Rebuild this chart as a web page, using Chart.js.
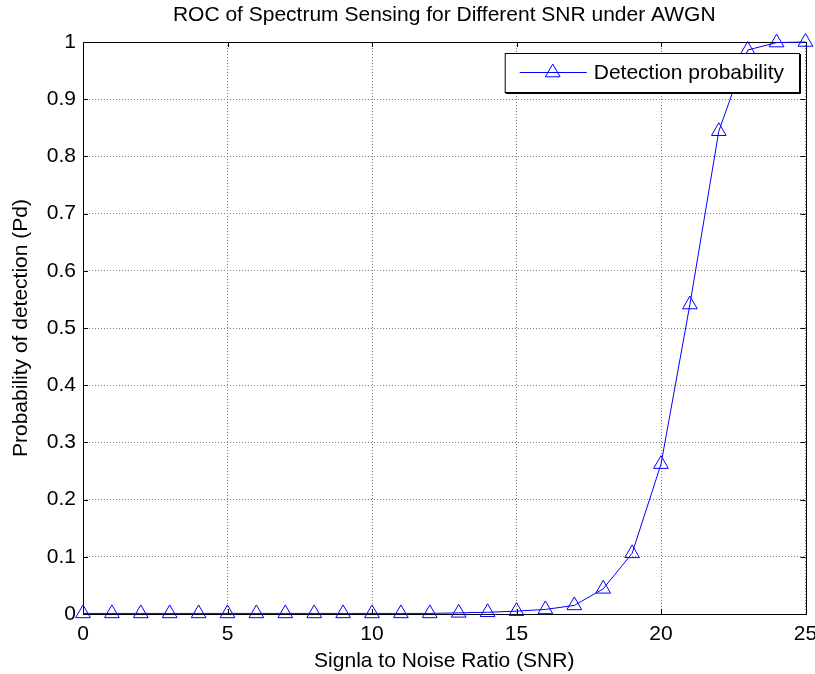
<!DOCTYPE html>
<html>
<head>
<meta charset="utf-8">
<title>ROC of Spectrum Sensing</title>
<script src="https://cdn.jsdelivr.net/npm/chart.js@4/dist/chart.umd.min.js"></script>
<style>
  body { margin: 0; background: #fff; }
  canvas { display: block; }
</style>
</head>
<body>
<canvas id="rocChart" width="815" height="674"></canvas>
<script>
// SNR (dB) and detection probability
var snr = [0, 1, 2, 3, 4, 5, 6, 7, 8, 9, 10, 11, 12, 13, 14, 15, 16, 17, 18, 19, 20, 21, 22, 23, 24, 25];
var pd = [0.001, 0.001, 0.001, 0.001, 0.001, 0.001, 0.001, 0.001, 0.001, 0.001, 0.001, 0.001, 0.001, 0.002, 0.003,
          0.005, 0.008, 0.015, 0.044, 0.106, 0.262, 0.541, 0.844, 0.986, 0.999, 1.0];
var xTicks = [0, 5, 10, 15, 20, 25];
var xTickLabels = ['0', '5', '10', '15', '20', '25'];
var yTicks = [0, 0.1, 0.2, 0.3, 0.4, 0.5, 0.6, 0.7, 0.8, 0.9, 1];
var yTickLabels = ['0', '0.1', '0.2', '0.3', '0.4', '0.5', '0.6', '0.7', '0.8', '0.9', '1'];
var seriesName = 'Detection probability';

var FONT = '"Liberation Sans", Arial, Helvetica, sans-serif';
var BLUE = '#0000ff';

function triangle(ctx, x, y, r) {
  // same geometry as Chart.js 'triangle' point style
  ctx.beginPath();
  ctx.moveTo(x, y - r);
  ctx.lineTo(x + r * Math.sin(2 * Math.PI / 3), y - r * Math.cos(2 * Math.PI / 3));
  ctx.lineTo(x + r * Math.sin(4 * Math.PI / 3), y - r * Math.cos(4 * Math.PI / 3));
  ctx.closePath();
  ctx.stroke();
}

// matlab style box: frame, inward ticks, legend inside the axes
var matlabBox = {
  id: 'matlabBox',
  beforeDatasetsDraw: function (chart) {
    var ctx = chart.ctx, a = chart.chartArea;
    var xs = chart.scales.x, ys = chart.scales.y;
    ctx.save();
    ctx.strokeStyle = '#000';
    ctx.lineWidth = 1;
    ctx.strokeRect(Math.round(a.left) + 0.5, Math.round(a.top) + 0.5,
                   Math.round(a.right - a.left), Math.round(a.bottom - a.top));
    ctx.beginPath();
    xTicks.forEach(function (v) {
      var px = Math.round(xs.getPixelForValue(v)) + 0.5;
      ctx.moveTo(px, a.bottom); ctx.lineTo(px, a.bottom - 5);
      ctx.moveTo(px, a.top); ctx.lineTo(px, a.top + 5);
    });
    yTicks.forEach(function (v) {
      var py = Math.round(ys.getPixelForValue(v)) + 0.5;
      ctx.moveTo(a.left, py); ctx.lineTo(a.left + 5, py);
      ctx.moveTo(a.right, py); ctx.lineTo(a.right - 5, py);
    });
    ctx.stroke();
    ctx.restore();
  },
  afterDatasetsDraw: function (chart) {
    var ctx = chart.ctx, a = chart.chartArea;
    ctx.save();
    ctx.font = '21px ' + FONT;
    var tw = ctx.measureText(seriesName).width;
    var w = 89 + tw + 15, h = 39;
    var right = Math.round(a.right) - 7, top = Math.round(a.top) + 11;
    var left = right - w;
    ctx.fillStyle = '#fff';
    ctx.fillRect(left, top, w, h);
    ctx.strokeStyle = '#000';
    ctx.lineWidth = 1;
    ctx.strokeRect(left + 0.5, top + 0.5, w, h);
    ctx.beginPath();
    ctx.moveTo(left + 1, top + h + 1.5); ctx.lineTo(left + w + 1.5, top + h + 1.5);
    ctx.lineTo(left + w + 1.5, top + 1);
    ctx.stroke();
    var cy = top + 19.5;
    ctx.strokeStyle = BLUE;
    ctx.beginPath();
    ctx.moveTo(left + 15, cy); ctx.lineTo(left + 82, cy);
    ctx.stroke();
    triangle(ctx, left + 48, cy, 8.5);
    ctx.fillStyle = '#000';
    ctx.textBaseline = 'middle';
    ctx.textAlign = 'left';
    ctx.fillText(seriesName, left + 89, cy + 1);
    ctx.restore();
  }
};

var points = snr.map(function (s, i) { return { x: s, y: pd[i] }; });

var ctx = document.getElementById('rocChart');
var rocChart = new Chart(ctx, {
  type: 'line',
  data: {
    datasets: [{
      label: seriesName,
      data: points,
      borderColor: BLUE,
      borderWidth: 1,
      backgroundColor: 'rgba(0,0,0,0)',
      pointStyle: 'triangle',
      pointRadius: 8.5,
      pointBorderWidth: 1,
      pointBorderColor: BLUE,
      pointBackgroundColor: 'rgba(0,0,0,0)',
      tension: 0,
      clip: false
    }]
  },
  options: {
    responsive: false,
    animation: false,
    layout: { padding: { left: 0, right: 8, top: 0, bottom: 0 } },
    plugins: {
      legend: { display: false },
      tooltip: { enabled: false },
      title: {
        display: true,
        fullSize: false,
        text: 'ROC of Spectrum Sensing for Different SNR under AWGN',
        color: '#000',
        font: { family: FONT, size: 21, weight: 'normal' },
        padding: { top: 3, bottom: 13.8 }
      }
    },
    scales: {
      x: {
        type: 'linear',
        min: 0,
        max: 25,
        afterBuildTicks: function (scale) {
          scale.ticks = xTicks.map(function (v) { return { value: v }; });
        },
        afterFit: function (scale) {
          scale.height = 60;
          scale.paddingLeft = 0;
          scale.paddingRight = 0;
        },
        ticks: {
          color: '#000',
          font: { family: FONT, size: 21 },
          padding: 8,
          maxRotation: 0,
          callback: function (v) { return xTickLabels[xTicks.indexOf(v)]; }
        },
        grid: { color: '#7f7f7f', lineWidth: 1, drawTicks: false },
        border: { display: false, dash: [1, 2] },
        title: {
          display: true,
          text: 'Signla to Noise Ratio (SNR)',
          color: '#000',
          font: { family: FONT, size: 21 },
          padding: { top: 0, bottom: 0 }
        }
      },
      y: {
        type: 'linear',
        min: 0,
        max: 1,
        afterBuildTicks: function (scale) {
          scale.ticks = yTicks.map(function (v) { return { value: v }; });
        },
        afterFit: function (scale) {
          scale.width = 83;
          scale.paddingTop = 0;
          scale.paddingBottom = 0;
        },
        ticks: {
          color: '#000',
          font: { family: FONT, size: 21 },
          padding: 7,
          callback: function (v) { return yTickLabels[yTicks.indexOf(v)]; }
        },
        grid: { color: '#7f7f7f', lineWidth: 1, drawTicks: false },
        border: { display: false, dash: [1, 2] },
        title: {
          display: true,
          text: 'Probability of detection (Pd)',
          color: '#000',
          font: { family: FONT, size: 21 },
          padding: { top: 9, bottom: 0 }
        }
      }
    }
  },
  plugins: [matlabBox]
});
</script>
</body>
</html>
